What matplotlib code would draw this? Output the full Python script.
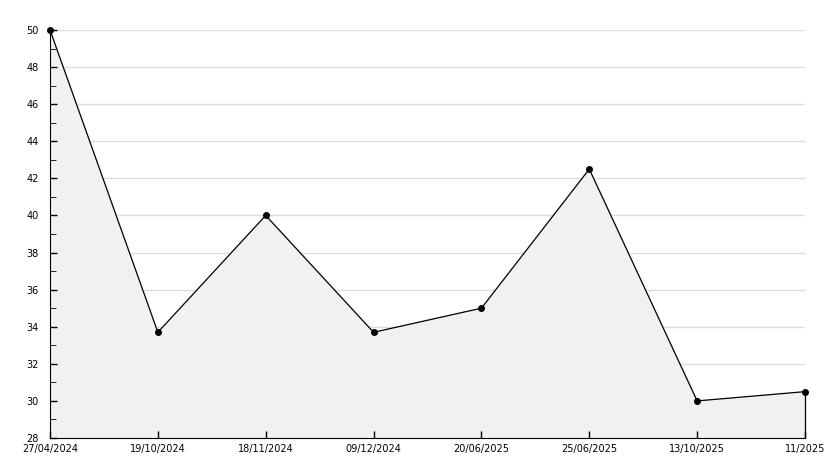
import matplotlib.pyplot as plt
import numpy as np

dates = ["27/04/2024", "19/10/2024", "18/11/2024", "09/12/2024",
         "20/06/2025", "25/06/2025", "13/10/2025", "11/2025"]
values = [50, 33.7, 40, 33.7, 35, 42.5, 30, 30.5]

fig = plt.figure(figsize=(8.34, 4.68), dpi=100)
ax = fig.add_axes([50/834, 30/468, 755/834, 408/468])

x = np.arange(len(dates))
# grid drawn by hand so the fill covers it
for g in range(30, 51, 2):
    ax.axhline(g, color="#dddddd", linewidth=1, zorder=0)
ax.fill_between(x, values, 28, color="#f1f1f1", zorder=1)
ax.plot(x, values, color="black", linewidth=0.9, marker="o", markersize=4,
        zorder=3, clip_on=False)
ax.vlines(x[-1], 28, values[-1], color="black", linewidth=0.9, zorder=3, clip_on=False)

ax.set_xlim(0, len(dates) - 1)
ax.set_ylim(28, 50)
ax.set_xticks(x)
ax.set_xticklabels(dates)
ax.set_yticks(range(28, 51, 2))
ax.set_yticks(range(29, 50, 2), minor=True)

ax.tick_params(axis="both", direction="in", labelsize=7, length=5, width=1)
ax.tick_params(axis="y", which="minor", direction="in", length=4)
ax.tick_params(axis="y", pad=8)
ax.tick_params(axis="x", pad=4)
for s in ["top", "right"]:
    ax.spines[s].set_visible(False)

plt.savefig("out.png", dpi=100)
